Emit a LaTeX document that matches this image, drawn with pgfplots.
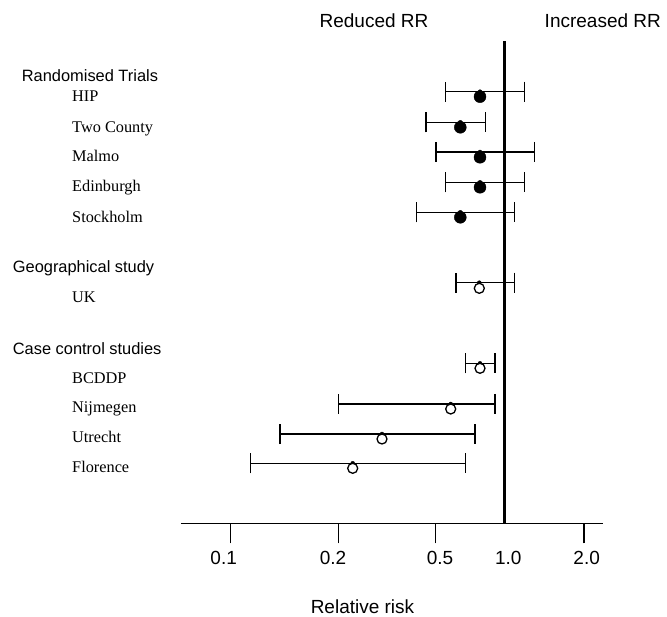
\documentclass[border=0pt]{standalone}
\usepackage{fontspec}
\setmainfont{Liberation Serif}
\newfontfamily\arial{Liberation Sans}
\usepackage{pgfplots}
\usepackage{pgfplotstable}
\pgfplotsset{compat=1.18}

% positions on the drawn scale; cy = bar height, dy = marker height
\pgfplotstableread{
x     lo     hi     cy     dy
480.0 445.7  524.7  525.3  520.3
460.3 426.0  485.7  494.7  489.7
480.0 436.0  534.3  465.0  459.7
480.0 445.7  524.3  434.7  429.7
460.3 416.3  514.3  404.7  399.7
}\trials
\pgfplotstableread{
x     lo     hi     cy     dy
479.3 456.0  514.3  334.3  328.7
480.0 465.3  495.0  253.7  248.7
450.7 338.3  495.0  213.0  208.0
382.0 280.0  475.0  183.0  178.0
352.7 250.7  465.7  153.7  148.7
}\observational

\newcommand\bigsans{\arial\fontsize{19bp}{22bp}\selectfont}
\newcommand\groupsans{\arial\fontsize{16.4bp}{19bp}\selectfont}
\newcommand\itemserif{\fontsize{16.3bp}{19bp}\selectfont}

\begin{document}
\begin{tikzpicture}
\begin{axis}[
  scale only axis,
  width=422bp, height=482.3bp,
  xmin=181, xmax=603, ymin=93.7, ymax=576,
  axis x line=bottom, axis y line=none,
  x axis line style={-, line width=1.4pt},
  xtick={230.3,338.7,435.7,584}, xticklabels={},
  xtick align=outside, major tick length=20bp,
  xtick style={line width=1.1pt, black},
  extra x ticks={223.7,333,440,508.3,586.7},
  extra x tick labels={0.1,0.2,0.5,1.0,2.0},
  extra x tick style={major tick length=0pt,
    xticklabel style={font=\bigsans, anchor=base, inner sep=0pt, yshift=-41.5bp}},
  clip=false,
  ci/.style={only marks, mark=none,
    error bars/.cd, x dir=both, x explicit, error mark=|,
    error bar style={line width=1.2pt, black},
    error mark options={black, line width=1.2pt, mark size=10bp}},
]
\path (axis cs:0,0) rectangle (axis cs:667,617);

% confidence intervals
\addplot[ci] table[x=x, y=cy, x error plus expr=\thisrow{hi}-\thisrow{x},
        x error minus expr=\thisrow{x}-\thisrow{lo}] {\trials};
\addplot[ci] table[x=x, y=cy, x error plus expr=\thisrow{hi}-\thisrow{x},
        x error minus expr=\thisrow{x}-\thisrow{lo}] {\observational};

% no-effect line
\addplot[black, line width=2.2pt] coordinates {(504.5,93.7) (504.5,576)};

% point estimates
\addplot[only marks, mark=*, mark size=6bp, black] table[x=x, y=dy] {\trials};
\addplot[only marks, mark=*, mark size=5bp, draw=black, fill=white,
  mark options={line width=1.3pt}] table[x=x, y=dy] {\observational};

% labels
\node[anchor=base, inner sep=0, font=\bigsans] at (axis cs:374,589.2) {Reduced RR};
\node[anchor=base, inner sep=0, font=\bigsans] at (axis cs:602.8,589.2) {Increased RR};
\node[anchor=base, inner sep=0, font=\bigsans] at (axis cs:362.5,3.2) {Relative risk};

\node[anchor=base west, inner sep=0, font=\groupsans] at (axis cs:21.7,535.8) {Randomised Trials};
\node[anchor=base west, inner sep=0, font=\groupsans] at (axis cs:12.7,344.1) {Geographical study};
\node[anchor=base west, inner sep=0, font=\groupsans] at (axis cs:12.7,262.4) {Case control studies};

\node[anchor=base west, inner sep=0, font=\itemserif] at (axis cs:72,515.6) {HIP};
\node[anchor=base west, inner sep=0, font=\itemserif] at (axis cs:72,484.9) {Two County};
\node[anchor=base west, inner sep=0, font=\itemserif] at (axis cs:72,455.1) {Malmo};
\node[anchor=base west, inner sep=0, font=\itemserif] at (axis cs:72,425.1) {Edinburgh};
\node[anchor=base west, inner sep=0, font=\itemserif] at (axis cs:72,394.9) {Stockholm};
\node[anchor=base west, inner sep=0, font=\itemserif] at (axis cs:72,314.1) {UK};
\node[anchor=base west, inner sep=0, font=\itemserif] at (axis cs:72,233.1) {BCDDP};
\node[anchor=base west, inner sep=0, font=\itemserif] at (axis cs:72,204.1) {Nijmegen};
\node[anchor=base west, inner sep=0, font=\itemserif] at (axis cs:72,174.1) {Utrecht};
\node[anchor=base west, inner sep=0, font=\itemserif] at (axis cs:72,144.6) {Florence};
\end{axis}
\end{tikzpicture}
\end{document}
